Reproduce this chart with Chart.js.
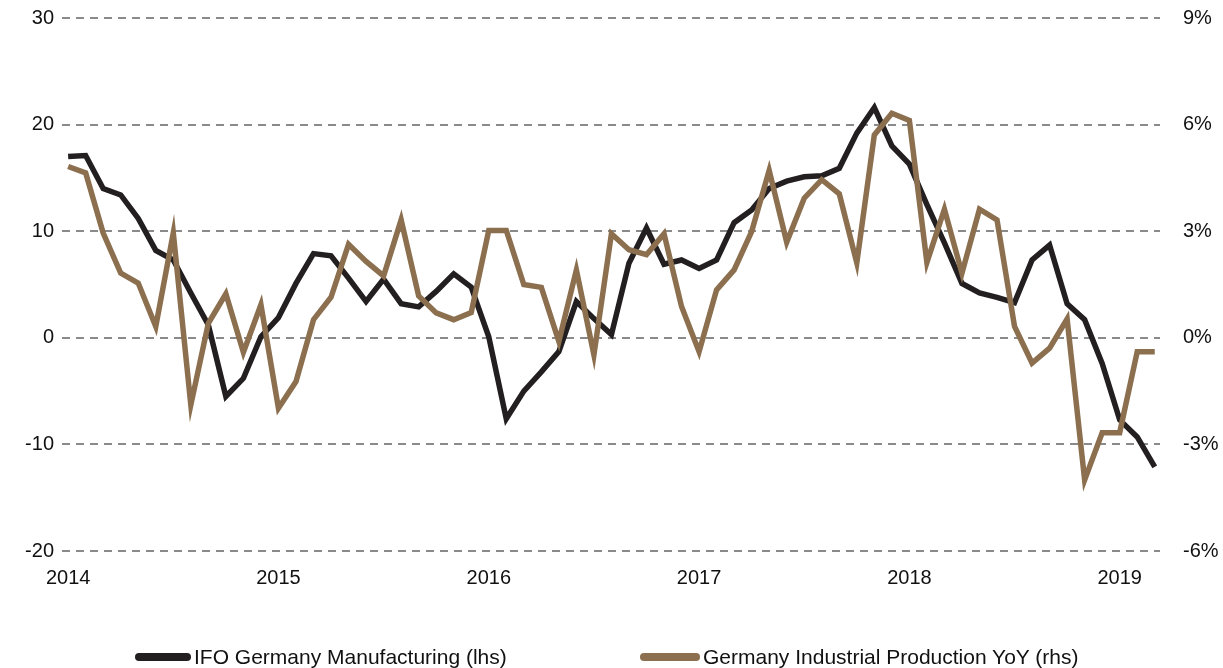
<!DOCTYPE html>
<html>
<head>
<meta charset="utf-8">
<script src="https://cdn.jsdelivr.net/npm/chart.js@4/dist/chart.umd.min.js"></script>
<style>
  html, body { margin: 0; padding: 0; background: #fff; }
  #wrap { position: relative; width: 1223px; height: 668px; font-family: "Liberation Sans", Arial, sans-serif; }
  #chart { position: absolute; left: 0; top: 0; }
  .leg { position: absolute; top: 645px; height: 24px; display: flex; align-items: center; font-size: 21px; color: #111; white-space: nowrap; }
  .leg span.mk { display: inline-block; height: 8px; border-radius: 4px; margin-right: 3px; }
</style>
</head>
<body>
<div id="wrap">
  <canvas id="chart" width="1223" height="668"></canvas>
  <div class="leg" style="left:135px"><span class="mk" style="width:56px;background:#231f20"></span>IFO Germany Manufacturing (lhs)</div>
  <div class="leg" style="left:640px"><span class="mk" style="width:60px;background:#8b6f4e"></span>Germany Industrial Production YoY (rhs)</div>
</div>
<script>
// monthly, Jan 2014 .. Mar 2019
const yearLabels = ['2014', '2015', '2016', '2017', '2018', '2019'];
const yearTickPos = [0, 12, 24, 36, 48, 60];

const ifoManufacturing = [
  17.0, 17.1, 14.0, 13.4, 11.2, 8.2, 7.3, 4.2, 1.2, -5.5, -3.8, 0.1,
  1.9, 5.1, 7.9, 7.7, 5.6, 3.4, 5.5, 3.2, 2.9, 4.35, 6.0, 4.75,
  0.1, -7.6, -5.0, -3.2, -1.3, 3.4, 1.8, 0.3, 7.0, 10.3, 6.9, 7.3,
  6.5, 7.3, 10.8, 12.0, 14.0, 14.7, 15.1, 15.2, 15.9, 19.2, 21.6, 18.0,
  16.3, 12.5, 8.9, 5.1, 4.2, 3.8, 3.3, 7.3, 8.7, 3.2, 1.7, -2.4,
  -7.7, -9.3, -12.1
];

const industrialProdYoY = [
  4.82, 4.64, 2.95, 1.82, 1.54, 0.32, 2.95, -1.89, 0.41, 1.24, -0.41, 0.93,
  -1.98, -1.23, 0.51, 1.14, 2.63, 2.15, 1.74, 3.32, 1.18, 0.70, 0.51, 0.71,
  3.02, 3.02, 1.50, 1.42, -0.1, 1.91, -0.48, 2.93, 2.48, 2.34, 2.93, 0.88,
  -0.39, 1.35, 1.91, 2.99, 4.71, 2.69, 3.93, 4.45, 4.05, 2.11, 5.71, 6.32,
  6.12, 2.12, 3.62, 1.82, 3.62, 3.32, 0.32, -0.71, -0.29, 0.53, -4.0, -2.67,
  -2.67, -0.39, -0.39
];

const leftTicks = [-20, -10, 0, 10, 20, 30];
const rightTicks = [-6, -3, 0, 3, 6, 9];

const toXY = arr => arr.map((v, i) => ({ x: i, y: v }));
const font = { family: '"Liberation Sans", Arial, sans-serif', size: 20 };

new Chart(document.getElementById('chart'), {
  type: 'line',
  data: {
    datasets: [
      {
        label: 'Germany Industrial Production YoY (rhs)',
        data: toXY(industrialProdYoY),
        borderColor: '#8b6f4e',
        borderWidth: 5.5,
        pointRadius: 0,
        tension: 0,
        yAxisID: 'y2',
      },
      {
        label: 'IFO Germany Manufacturing (lhs)',
        data: toXY(ifoManufacturing),
        borderColor: '#231f20',
        borderWidth: 5.5,
        pointRadius: 0,
        tension: 0,
        yAxisID: 'y',
      },
    ],
  },
  options: {
    responsive: false,
    animation: false,
    layout: { padding: { top: 18, left: 0, right: 0, bottom: 0 } },
    plugins: { legend: { display: false }, tooltip: { enabled: false } },
    scales: {
      x: {
        type: 'linear',
        min: -0.35,
        max: 62.3,
        afterBuildTicks: s => { s.ticks = yearTickPos.map(v => ({ value: v })); },
        afterFit: s => { s.height = 117; },
        ticks: {
          color: '#111',
          font: font,
          padding: 7,
          maxRotation: 0,
          callback: v => yearLabels[yearTickPos.indexOf(v)],
        },
        grid: { display: false },
        border: { display: false },
      },
      y: {
        position: 'left',
        min: -20,
        max: 30,
        afterBuildTicks: s => { s.ticks = leftTicks.map(v => ({ value: v })); },
        afterFit: s => { s.width = 62; s.paddingTop = 0; s.paddingBottom = 0; },
        ticks: { color: '#111', font: font, padding: 8 },
        grid: { color: '#8a8a8a', lineWidth: 2, drawTicks: false },
        border: { display: false, dash: [8, 6] },
      },
      y2: {
        position: 'right',
        min: -6,
        max: 9,
        afterBuildTicks: s => { s.ticks = rightTicks.map(v => ({ value: v })); },
        afterFit: s => { s.width = 63; s.paddingTop = 0; s.paddingBottom = 0; },
        ticks: { color: '#111', font: font, padding: 15, callback: v => v + '%' },
        grid: { display: false },
        border: { display: false },
      },
    },
  },
});
</script>
</body>
</html>
